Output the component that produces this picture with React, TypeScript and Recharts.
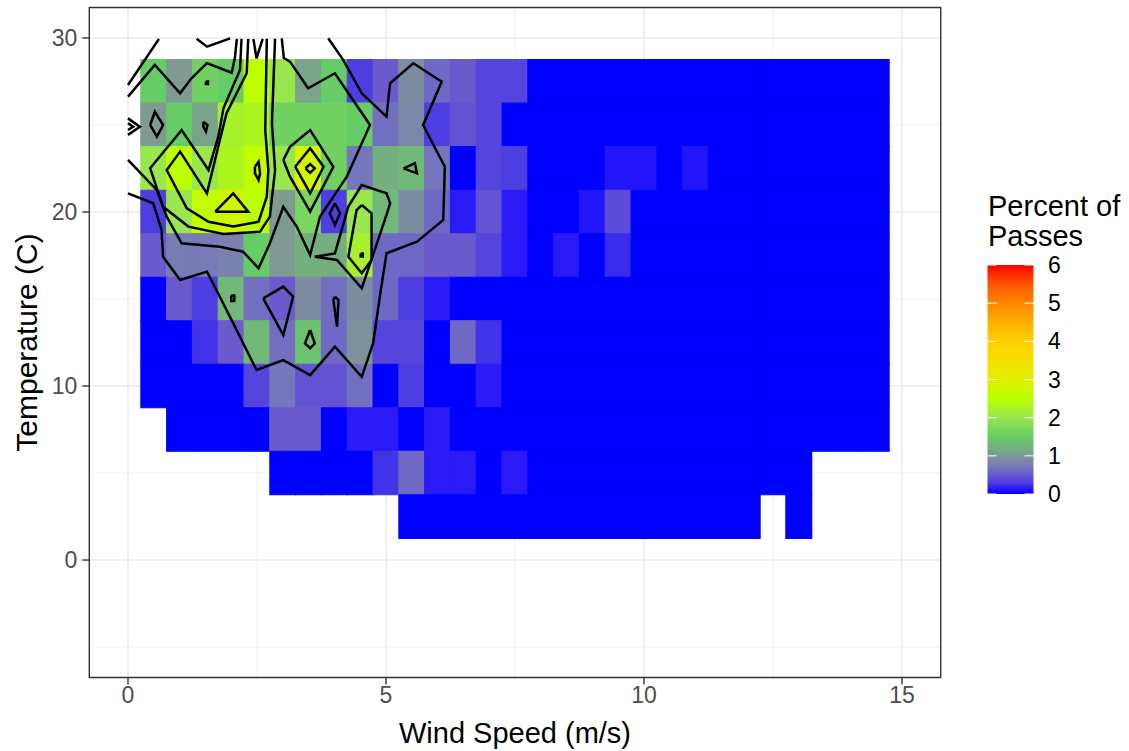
import React from 'react';
import { ScatterChart, Scatter, XAxis, YAxis, ReferenceArea, CartesianGrid } from 'recharts';

const FONT = '"Liberation Sans", Arial, sans-serif';

// ---- categories ----
const windBins = [0.5, 1, 1.5, 2, 2.5, 3, 3.5, 4, 4.5, 5, 5.5, 6, 6.5, 7, 7.5, 8, 8.5, 9, 9.5, 10, 10.5, 11, 11.5, 12, 12.5, 13, 13.5, 14, 14.5];
const tempBins = [27.5, 25, 22.5, 20, 17.5, 15, 12.5, 10, 7.5, 5, 2.5];
const binW = 0.5;
const binH = 2.5;

// ---- percent of passes per tile (null = no tile) ----
const pctT27 = [1.5, 1.0, 1.6, 1.5, 2.5, 2.0, 1.1, 1.5, 0.3, 0.5, 0.9, 0.6, 0.5, 0.35, 0.35, 0, 0, 0, 0, 0, 0, 0, 0, 0, 0, 0, 0, 0, 0];
const pctT25 = [1.0, 1.5, 1.1, 2.2, 2.3, 1.6, 1.6, 1.6, 1.5, 0.65, 0.85, 0.3, 0.45, 0.35, 0, 0, 0, 0, 0, 0, 0, 0, 0, 0, 0, 0, 0, 0, 0];
const pctT22 = [2.0, 2.5, 2.0, 2.3, 2.6, 2.0, 2.85, 1.6, 0.7, 1.2, 1.3, 0.7, 0, 0.35, 0.3, 0, 0, 0, 0.12, 0.12, 0, 0.12, 0, 0, 0, 0, 0, 0, 0];
const pctT20 = [0.3, 2.0, 2.6, 2.8, 2.5, 1.0, 1.7, 0.3, 2.0, 1.3, 0.9, 0.6, 0.15, 0.45, 0.15, 0, 0, 0.12, 0.4, 0, 0, 0, 0, 0, 0, 0, 0, 0, 0];
const pctT17 = [0.5, 0.75, 0.75, 0.8, 1.5, 1.0, 1.2, 1.2, 2.2, 0.6, 0.6, 0.5, 0.5, 0.35, 0.15, 0, 0.15, 0, 0.22, 0, 0, 0, 0, 0, 0, 0, 0, 0, 0];
const pctT15 = [0, 0.5, 0.3, 1.3, 0.65, 0.5, 0.9, 0.65, 0.9, 0.6, 0.3, 0.15, 0, 0, 0, 0, 0, 0, 0, 0, 0, 0, 0, 0, 0, 0, 0, 0, 0];
const pctT12 = [0, 0, 0.25, 0.5, 1.3, 0.65, 1.4, 0.6, 0.95, 0.35, 0.35, 0, 0.6, 0.25, 0, 0, 0, 0, 0, 0, 0, 0, 0, 0, 0, 0, 0, 0, 0];
const pctT10 = [0, 0, 0, 0, 0.35, 0.7, 0.45, 0.45, 0.65, 0, 0.3, 0, 0, 0.15, 0, 0, 0, 0, 0, 0, 0, 0, 0, 0, 0, 0, 0, 0, 0];
const pctT7 = [null, 0, 0, 0, 0, 0.5, 0.5, 0, 0.15, 0.15, 0, 0.15, 0, 0, 0, 0, 0, 0, 0, 0, 0, 0, 0, 0, 0, 0, 0, 0, 0];
const pctT5 = [null, null, null, null, null, 0, 0, 0, 0, 0.25, 0.6, 0.15, 0.15, 0, 0.15, 0, 0, 0, 0, 0, 0, 0, 0, 0, 0, 0, null, null, null];
const pctT2 = [null, null, null, null, null, null, null, null, null, null, 0, 0, 0, 0, 0, 0, 0, 0, 0, 0, 0, 0, 0, 0, null, 0, null, null, null];
const pctRows = [pctT27, pctT25, pctT22, pctT20, pctT17, pctT15, pctT12, pctT10, pctT7, pctT5, pctT2];

// ---- colour scale ----
const scaleValues = [0, 0.15, 0.3, 0.5, 0.7, 0.85, 1.0, 1.25, 1.5, 2.0, 2.5, 3.0, 3.5, 4.0, 4.5, 5.0, 5.5, 6.0];
const scaleColors = ['#0000FF', '#2A1AF5', '#4E3EE2', '#6A5ACD', '#7676BC', '#7C86A8', '#7F9A92', '#72B47C', '#66CC66', '#99E64D', '#BBFF00', '#DDF000', '#F5E000', '#FFD000', '#FFB000', '#FF8800', '#FF5500', '#FF0000'];
const legendBreaks = [0, 1, 2, 3, 4, 5, 6];
const legendMax = 6;

// ---- axes ----
const xTicks = [0, 5, 10, 15];
const xMinor = [2.5, 7.5, 12.5];
const yTicks = [0, 10, 20, 30];
const yMinor = [-5, 5, 15, 25];
const xDomain: [number, number] = [-0.75, 15.75];
const yDomain: [number, number] = [-6.75, 31.75];

// ---- density contours (wind, temp) ----
const contourA = [[0, 21.07], [0.49, 20.5], [0.65, 18.97], [0.68, 17.43], [1.01, 16.09], [1.53, 16.57], [1.78, 15.13], [2.04, 13.6], [2.49, 10.92], [3.01, 11.49], [3.53, 10.63], [4.01, 12.26], [4.53, 10.53], [4.75, 12.45], [4.88, 15.13], [5.01, 17.63], [5.6, 18.29], [6.11, 19.54], [6.14, 22.6], [5.72, 25.0], [6.08, 27.49], [5.53, 28.55], [5.08, 27.4], [5.01, 25.48], [4.53, 26.82], [4.17, 28.74], [3.88, 29.98]];
const contourB = [[0, 22.99], [0.56, 21.26], [0.75, 19.73], [1.04, 18.2], [1.78, 18.0], [2.23, 17.72], [2.53, 16.76], [2.75, 18.2], [3.01, 20.3], [3.27, 19.16], [3.53, 17.53], [3.72, 19.73], [4.24, 22.03], [4.69, 25.0], [4.01, 27.97], [3.49, 27.11], [3.14, 28.64], [3.02, 28.85], [2.98, 29.98]];
const loopC8 = [[3.62, 17.43], [4.05, 17.24], [4.53, 15.61], [5.01, 19.83], [5.08, 20.5], [5.01, 21.07], [4.53, 21.55], [4.27, 20.31], [4.01, 17.62], [3.62, 17.43]];
const loopC8Inner = [[4.53, 20.4], [4.72, 19.92], [4.72, 17.24], [4.53, 16.48], [4.27, 17.43], [4.43, 20.11], [4.53, 20.4]];
const loopC8Dot = [[4.51, 17.62], [4.55, 17.62], [4.55, 17.44], [4.51, 17.44], [4.51, 17.62]];
const diamondOuter = [[3.01, 22.99], [3.14, 23.75], [3.53, 24.71], [3.98, 22.6], [3.53, 20.02], [3.14, 22.03], [3.01, 22.99]];
const diamondInner = [[3.24, 22.6], [3.53, 23.66], [3.79, 22.6], [3.53, 21.07], [3.24, 22.6]];
const diamondCore = [[3.44, 22.51], [3.53, 22.75], [3.62, 22.51], [3.53, 22.25], [3.44, 22.51]];
const smallDiamond = [[4.01, 20.5], [4.11, 19.92], [4.01, 19.25], [3.91, 19.92], [4.01, 20.5]];
const smallOval = [[5.34, 22.51], [5.56, 22.8], [5.6, 22.22], [5.34, 22.51]];
const loopLow = [[2.62, 15.04], [3.01, 15.71], [3.2, 15.13], [3.01, 12.93], [2.62, 15.04]];
const dotLow = [[2.0, 15.2], [2.06, 15.2], [2.06, 14.88], [2.0, 14.88], [2.0, 15.2]];
const spikeLow = [[4.01, 15.13], [4.08, 14.94], [4.05, 13.41], [3.98, 14.94], [4.01, 15.13]];
const dropLow = [[3.53, 13.22], [3.62, 12.45], [3.53, 12.17], [3.43, 12.45], [3.53, 13.22]];
const topT1 = [[0, 27.3], [0.6, 29.95]];
const topT2 = [[0, 26.63], [0.52, 28.45], [1.01, 26.82], [1.23, 27.68], [1.53, 28.55], [2.01, 28.0], [2.07, 28.83], [2.11, 29.95]];
const topNotch = [[1.33, 29.95], [1.53, 29.5], [1.98, 29.98]];
const edgeOuter = [[0, 25.38], [0.23, 24.9], [0, 24.43]];
const edgeInner = [[0, 25.1], [0.1, 24.9], [0, 24.71]];
const diamondLeft = [[0.43, 25.0], [0.52, 25.76], [0.68, 25.0], [0.56, 24.33], [0.43, 25.0]];
const ovalLeft = [[1.46, 25.19], [1.54, 25.0], [1.51, 24.62], [1.46, 24.9], [1.46, 25.19]];
const dotTop = [[1.51, 27.5], [1.55, 27.5], [1.55, 27.36], [1.51, 27.36], [1.51, 27.5]];
const contourU3 = [[2.2, 29.95], [2.17, 28.16], [1.85, 25.96], [1.75, 24.33], [1.56, 22.41], [1.04, 24.71], [0.43, 22.51], [0.68, 20.3], [1.17, 19.16], [1.85, 18.74], [2.56, 18.87], [2.75, 19.73], [2.85, 22.41], [2.79, 25.1], [2.85, 29.95]];
const contourU4 = [[2.33, 29.95], [2.3, 27.97], [1.91, 25.67], [1.78, 24.14], [1.53, 21.07], [1.01, 23.47], [0.75, 22.41], [1.14, 20.21], [1.56, 19.44], [2.04, 19.16], [2.53, 19.44], [2.69, 20.88], [2.72, 22.41], [2.66, 24.71], [2.69, 29.95]];
const peakV5 = [[2.43, 29.95], [2.49, 28.83], [2.61, 29.95]];
const triYellow = [[1.69, 20.02], [2.04, 21.07], [2.33, 20.02], [1.69, 20.02]];
const ovalYellow = [[2.46, 22.6], [2.53, 22.89], [2.56, 22.22], [2.53, 21.84], [2.46, 22.22], [2.46, 22.6]];

const contours = [contourA, contourB, loopC8, loopC8Inner, loopC8Dot, diamondOuter, diamondInner, diamondCore, smallDiamond, smallOval, loopLow, dotLow, spikeLow, dropLow, topT1, topT2, topNotch, edgeOuter, edgeInner, diamondLeft, ovalLeft, dotTop, contourU3, contourU4, peakV5, triYellow, ovalYellow];

function hexToRgb(h: string) {
  return [parseInt(h.slice(1, 3), 16), parseInt(h.slice(3, 5), 16), parseInt(h.slice(5, 7), 16)];
}
function colorFor(v: number) {
  if (v <= scaleValues[0]) return scaleColors[0];
  for (let i = 1; i < scaleValues.length; i++) {
    if (v <= scaleValues[i]) {
      const t = (v - scaleValues[i - 1]) / (scaleValues[i] - scaleValues[i - 1]);
      const a = hexToRgb(scaleColors[i - 1]);
      const b = hexToRgb(scaleColors[i]);
      const c = a.map((av, k) => Math.round(av + (b[k] - av) * t));
      return `rgb(${c[0]},${c[1]},${c[2]})`;
    }
  }
  return scaleColors[scaleColors.length - 1];
}

const tiles: { x: number; y: number; v: number }[] = [];
tempBins.forEach((t, r) => {
  pctRows[r].forEach((v, c) => {
    if (v !== null) tiles.push({ x: windBins[c], y: t, v });
  });
});

const noShape = () => <g />;

const W = 960;
const H = 751;
const plotLeft = 89.3;
const plotTop = 7.5;
const plotRight = 940.7;
const plotBottom = 677.5;
const yAxisW = 80;
const xAxisH = 60;

function gridX(values: number[]) {
  return (p: any) => {
    const sc = p && p.xAxis && p.xAxis.scale;
    return values.map((v) =>
      typeof sc === 'function'
        ? sc(v)
        : p.offset.left + ((v - xDomain[0]) / (xDomain[1] - xDomain[0])) * p.offset.width
    );
  };
}
function gridY(values: number[]) {
  return (p: any) => {
    const sc = p && p.yAxis && p.yAxis.scale;
    return values.map((v) =>
      typeof sc === 'function'
        ? sc(v)
        : p.offset.top + ((yDomain[1] - v) / (yDomain[1] - yDomain[0])) * p.offset.height
    );
  };
}

export default function App() {
  const barTop = 265;
  const barBottom = 494;
  const barLeft = 987.5;
  const barRight = 1033.5;
  const lv = (v: number) => barBottom - (v / legendMax) * (barBottom - barTop);
  return (
    <div style={{ position: 'absolute', left: 0, top: 0, width: 1129, height: 751, background: '#fff', fontFamily: FONT }}>
      <ScatterChart
        width={W}
        height={H}
        margin={{ top: plotTop, right: W - plotRight, left: plotLeft - yAxisW, bottom: H - plotBottom - xAxisH }}
      >
        <CartesianGrid
          stroke="#EBEBEB"
          strokeWidth={0.8}
          verticalCoordinatesGenerator={gridX(xMinor)}
          horizontalCoordinatesGenerator={gridY(yMinor)}
        />
        <CartesianGrid
          stroke="#EBEBEB"
          strokeWidth={1.6}
          verticalCoordinatesGenerator={gridX(xTicks)}
          horizontalCoordinatesGenerator={gridY(yTicks)}
        />
        <XAxis
          type="number"
          dataKey="x"
          domain={xDomain}
          ticks={xTicks}
          allowDataOverflow
          interval={0}
          axisLine={false}
          tickLine={{ stroke: '#333333', strokeWidth: 1.4 }}
          tickSize={7}
          tickMargin={2}
          height={xAxisH}
          tick={{ fill: '#4D4D4D', fontSize: 23, fontFamily: FONT }}
        />
        <YAxis
          type="number"
          dataKey="y"
          domain={yDomain}
          ticks={yTicks}
          allowDataOverflow
          interval={0}
          axisLine={false}
          tickLine={{ stroke: '#333333', strokeWidth: 1.4 }}
          tickSize={7}
          tickMargin={5}
          width={yAxisW}
          tick={{ fill: '#4D4D4D', fontSize: 23, fontFamily: FONT }}
        />
        {tiles.map((d, i) => {
          const col = colorFor(d.v);
          return (
            <ReferenceArea
              key={'t' + i}
              x1={d.x - binW / 2}
              x2={d.x + binW / 2}
              y1={d.y - binH / 2}
              y2={d.y + binH / 2}
              fill={col}
              fillOpacity={1}
              stroke={col}
              strokeWidth={1.2}
              ifOverflow="visible"
            />
          );
        })}
        {contours.map((c, i) => (
          <Scatter
            key={'c' + i}
            data={c.map(([x, y]) => ({ x, y }))}
            line={{ stroke: '#000000', strokeWidth: 2.5, strokeLinejoin: 'miter' }}
            shape={noShape}
            fill="#000000"
            isAnimationActive={false}
            legendType="none"
          />
        ))}
        <ReferenceArea
          x1={xDomain[0]}
          x2={xDomain[1]}
          y1={yDomain[0]}
          y2={yDomain[1]}
          fill="none"
          fillOpacity={0}
          stroke="#333333"
          strokeWidth={1.4}
          ifOverflow="visible"
        />
      </ScatterChart>
      <svg width={1129} height={751} style={{ position: 'absolute', left: 0, top: 0, pointerEvents: 'none' }}>
        <defs>
          <linearGradient id="legGrad" x1="0" y1="1" x2="0" y2="0">
            {scaleValues.map((v, i) => (
              <stop key={i} offset={v / legendMax} stopColor={scaleColors[i]} />
            ))}
          </linearGradient>
        </defs>
        <text x={(plotLeft + plotRight) / 2} y={743} textAnchor="middle" fontSize={29} fontFamily={FONT} fill="#000">
          Wind Speed (m/s)
        </text>
        <text
          x={0}
          y={0}
          transform={`translate(37, ${(plotTop + plotBottom) / 2}) rotate(-90)`}
          textAnchor="middle"
          fontSize={30}
          fontFamily={FONT}
          fill="#000"
        >
          Temperature (C)
        </text>
        <text x={988} y={216} fontSize={29} fontFamily={FONT} fill="#000">Percent of</text>
        <text x={988} y={246} fontSize={29} fontFamily={FONT} fill="#000">Passes</text>
        <rect x={barLeft} y={barTop} width={barRight - barLeft} height={barBottom - barTop} fill="url(#legGrad)" />
        {legendBreaks.map((b) => (
          <g key={'lb' + b}>
            <line x1={barLeft} x2={barLeft + 9} y1={lv(b)} y2={lv(b)} stroke="#fff" strokeWidth={1} />
            <line x1={barRight - 9} x2={barRight} y1={lv(b)} y2={lv(b)} stroke="#fff" strokeWidth={1} />
            <text x={1048} y={lv(b)} dominantBaseline="central" fontSize={23} fontFamily={FONT} fill="#000">
              {b}
            </text>
          </g>
        ))}
      </svg>
    </div>
  );
}
